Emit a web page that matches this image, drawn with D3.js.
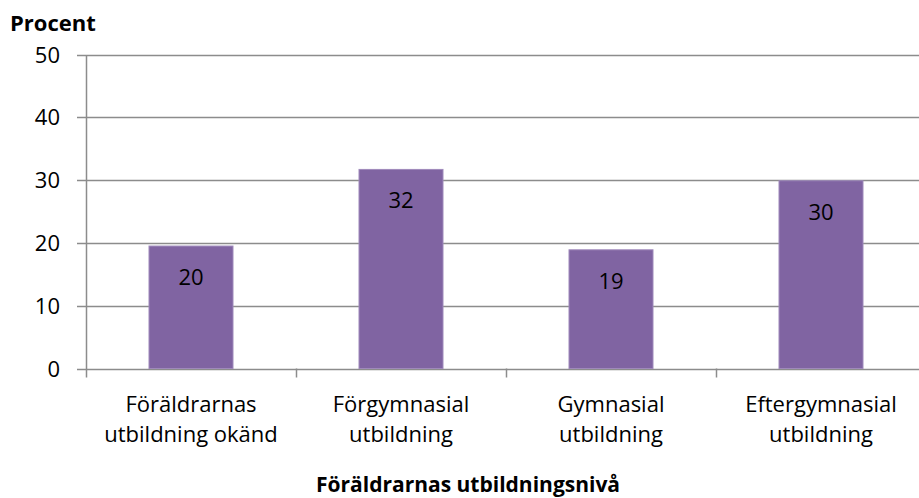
<!DOCTYPE html>
<html lang="sv">
<head>
    <meta charset="UTF-8">
    <title>Procent</title>
    <script src="https://cdn.jsdelivr.net/npm/d3@7"></script>
    <style>
        body { margin: 0; background: #fff; }
        text { font-family: "Open Sans", sans-serif; fill: #000; }
    </style>
</head>
<body>
<script type="text/javascript">
    var categories = [
        ['Föräldrarnas', 'utbildning okänd'],
        ['Förgymnasial', 'utbildning'],
        ['Gymnasial', 'utbildning'],
        ['Eftergymnasial', 'utbildning']
    ];
    var values = [19.5, 31.7, 18.9, 29.9];
    var labels = ['20', '32', '19', '30'];
    var yTicks = [0, 10, 20, 30, 40, 50];

    var width = 919;
    var height = 498;
    var plotLeft = 86, plotRight = 926, plotTop = 54.5, plotBottom = 368.5;

    var svg = d3.select('body').append('svg')
            .attr('width', width)
            .attr('height', height);

    var x = d3.scaleBand()
            .domain(d3.range(categories.length))
            .range([plotLeft, plotRight])
            .paddingInner(0.6)
            .paddingOuter(0.3);
    var y = d3.scaleLinear()
            .domain([0, 50])
            .range([plotBottom, plotTop]);

    // gridlines
    svg.selectAll('line.grid')
            .data(yTicks)
            .enter()
            .append('line')
            .attr('class', 'grid')
            .attr('x1', plotLeft - 9)
            .attr('x2', width)
            .attr('y1', function (d) { return Math.round(y(d)) + 0.5; })
            .attr('y2', function (d) { return Math.round(y(d)) + 0.5; })
            .attr('stroke', '#8c8c8c')
            .attr('stroke-width', 1.5);

    // y axis line
    svg.append('line')
            .attr('x1', plotLeft + 0.5).attr('x2', plotLeft + 0.5)
            .attr('y1', Math.round(y(50))).attr('y2', plotBottom + 9)
            .attr('stroke', '#8c8c8c')
            .attr('stroke-width', 1.5);

    // x category ticks
    svg.selectAll('line.xtick')
            .data(d3.range(1, categories.length))
            .enter()
            .append('line')
            .attr('class', 'xtick')
            .attr('x1', function (d) { return x(d) - x.step() * x.paddingInner() / 2 + 0.5; })
            .attr('x2', function (d) { return x(d) - x.step() * x.paddingInner() / 2 + 0.5; })
            .attr('y1', plotBottom)
            .attr('y2', plotBottom + 9)
            .attr('stroke', '#8c8c8c')
            .attr('stroke-width', 1.5);

    // bars
    svg.selectAll('rect')
            .data(values)
            .enter()
            .append('rect')
            .attr('x', function (d, i) { return x(i); })
            .attr('y', function (d) { return y(d); })
            .attr('width', x.bandwidth())
            .attr('height', function (d) { return y(0) - y(d); })
            .attr('fill', '#8064a2')
            .attr('stroke', '#9f8abb')
            .attr('stroke-width', 1);

    // value labels
    svg.selectAll('text.val')
            .data(values)
            .enter()
            .append('text')
            .attr('class', 'val')
            .attr('x', function (d, i) { return x(i) + x.bandwidth() / 2; })
            .attr('y', function (d) { return y(d) + 39; })
            .attr('text-anchor', 'middle')
            .attr('font-size', '22px')
            .text(function (d, i) { return labels[i]; });

    // y tick labels
    svg.selectAll('text.ytick')
            .data(yTicks)
            .enter()
            .append('text')
            .attr('class', 'ytick')
            .attr('x', 60)
            .attr('y', function (d) { return y(d) + 8; })
            .attr('text-anchor', 'end')
            .attr('font-size', '22px')
            .text(function (d) { return d; });

    // category labels
    var cat = svg.selectAll('text.cat')
            .data(categories)
            .enter()
            .append('text')
            .attr('class', 'cat')
            .attr('text-anchor', 'middle')
            .attr('font-size', '22px');
    cat.selectAll('tspan')
            .data(function (d, i) { return d.map(function (s) { return {s: s, i: i}; }); })
            .enter()
            .append('tspan')
            .attr('x', function (d) { return x(d.i) + x.bandwidth() / 2; })
            .attr('y', function (d, j) { return 412 + j * 30; })
            .text(function (d) { return d.s; });

    // titles
    svg.append('text')
            .attr('x', 10)
            .attr('y', 31)
            .attr('font-size', '22px')
            .attr('font-weight', 'bold')
            .text('Procent');
    svg.append('text')
            .attr('x', 468)
            .attr('y', 492)
            .attr('text-anchor', 'middle')
            .attr('font-size', '21px')
            .attr('font-weight', 'bold')
            .text('Föräldrarnas utbildningsnivå');
</script>
</body>
</html>
